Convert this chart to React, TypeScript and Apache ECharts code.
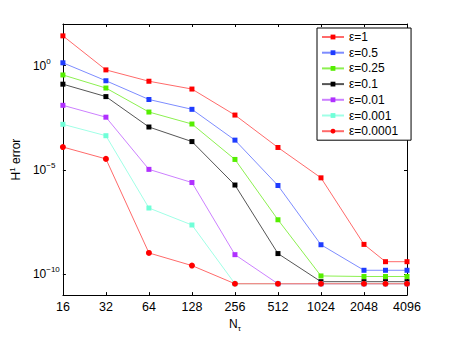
import React, { useEffect, useRef } from "react";
import * as echarts from "echarts";

const nTau = [16, 32, 64, 128, 256, 512, 1024, 2048, 2896, 4096];
const seriesNames = ["ε=1", "ε=0.5", "ε=0.25", "ε=0.1", "ε=0.01", "ε=0.001", "ε=0.0001"];
const eps1 = [27, 0.63, 0.18, 0.076, 4.3e-3, 1.2e-4, 4.2e-6, 2.7e-9, 4.0e-10, 4.0e-10];
const eps05 = [1.38, 0.19, 0.024, 8.1e-3, 2.7e-4, 1.8e-6, 2.6e-9, 1.55e-10, 1.55e-10, 1.55e-10];
const eps025 = [0.36, 0.085, 6.0e-3, 1.6e-3, 3.2e-5, 4.1e-8, 8.3e-11, 7.8e-11, 7.8e-11, 7.8e-11];
const eps01 = [0.13, 0.033, 1.15e-3, 2.3e-4, 1.9e-6, 9.8e-10, 4.4e-11, 4.4e-11, 4.4e-11, 4.4e-11];
const eps001 = [0.0126, 3.4e-3, 1.07e-5, 2.5e-6, 8.7e-10, 3.5e-11, 3.5e-11, 3.5e-11, 3.5e-11, 3.5e-11];
const eps0001 = [1.55e-3, 4.4e-4, 1.5e-7, 2.3e-8, 3.5e-11, 3.5e-11, 3.5e-11, 3.5e-11, 3.5e-11, 3.5e-11];
const eps00001 = [1.26e-4, 3.4e-5, 1.05e-9, 2.6e-10, 3.5e-11, 3.5e-11, 3.5e-11, 3.5e-11, 3.5e-11, 3.5e-11];
const yTickValues = [1e-10, 1e-5, 1];

const allValues = [eps1, eps05, eps025, eps01, eps001, eps0001, eps00001];
const markerColors = ["#ff0000", "#1f3cff", "#55ee00", "#000000", "#b030ff", "#70ffd8", "#ff0000"];
const lineColors = ["#ff6a6a", "#7d8cff", "#8cf050", "#555555", "#cc80ff", "#a0ffe6", "#ff6a6a"];
const symbols = ["rect", "rect", "rect", "rect", "rect", "rect", "circle"];

const FONT = "Liberation Sans, Arial, Helvetica, sans-serif";

export default function App() {
  const ref = useRef<HTMLDivElement>(null);
  useEffect(() => {
    if (!ref.current) return;
    const chart = echarts.init(ref.current, null, { renderer: "svg" });
    const yLabelRich = {
      b: { fontSize: 12, fontFamily: FONT, color: "#000" },
      s: { fontSize: 8, fontFamily: FONT, color: "#000", padding: [0, 0, 9, 0] },
    };
    const yFormatter = (v: number) => {
      const e = Math.round(Math.log10(v));
      return `{b|10}{s|${e < 0 ? "\u2212" + -e : e}}`;
    };
    const axisLineStyle = { color: "#000", width: 1 };
    const series = allValues.map((vals, i) => ({
      name: seriesNames[i],
      type: "line",
      xAxisIndex: 0,
      yAxisIndex: 0,
      data: nTau.map((n, j) => [n, vals[j]]),
      symbol: symbols[i],
      symbolSize: symbols[i] === "circle" ? 6 : 5,
      showSymbol: true,
      lineStyle: { color: lineColors[i], width: 1 },
      itemStyle: { color: markerColors[i], borderWidth: 0 },
      emphasis: { disabled: true },
    }));
    chart.setOption({
      animation: false,
      textStyle: { fontFamily: FONT },
      grid: { left: 58, right: 43, top: 24, bottom: 38, containLabel: false },
      legend: {
        show: true,
        orient: "vertical",
        left: 317,
        top: 28,
        itemWidth: 22,
        itemHeight: 6,
        itemGap: 3.7,
        padding: [3, 13, 3, 4],
        borderColor: "#000",
        borderWidth: 1,
        backgroundColor: "#fff",
        textStyle: { fontSize: 12, fontFamily: FONT, color: "#000", lineHeight: 12 },
        data: seriesNames,
      },
      xAxis: [
        {
          type: "log",
          logBase: 2,
          min: 16,
          max: 4096,
          position: "bottom",
          name: "N{t|τ}",
          nameLocation: "middle",
          nameGap: 12,
          nameTextStyle: {
            fontSize: 12,
            fontFamily: FONT,
            color: "#000",
            rich: { t: { fontSize: 8, fontFamily: FONT, color: "#000", padding: [8, 0, 0, 0] } },
          },
          axisLine: { show: true, lineStyle: axisLineStyle },
          axisTick: { show: true, inside: true, length: 3, lineStyle: axisLineStyle },
          axisLabel: {
            show: true,
            fontSize: 12.5,
            fontFamily: FONT,
            color: "#000",
            margin: 5,
            formatter: (v: number) => String(Math.round(v)),
          },
          splitLine: { show: false },
          minorTick: { show: false },
        },
        {
          type: "log",
          logBase: 2,
          min: 16,
          max: 4096,
          position: "top",
          axisLine: { show: true, lineStyle: axisLineStyle },
          axisTick: { show: true, inside: true, length: 3, lineStyle: axisLineStyle },
          axisLabel: { show: false },
          splitLine: { show: false },
        },
      ],
      yAxis: [
        {
          type: "log",
          logBase: 10,
          min: 1e-11,
          max: 1e2,
          position: "left",
          name: "H{s|1} error",
          nameLocation: "middle",
          nameGap: 32,
          nameTextStyle: {
            fontSize: 12,
            fontFamily: FONT,
            color: "#000",
            rich: { s: { fontSize: 8, fontFamily: FONT, color: "#000", padding: [0, 0, 8, 0] } },
          },
          axisLine: { show: true, lineStyle: axisLineStyle },
          axisTick: { show: true, inside: true, length: 3, lineStyle: axisLineStyle, customValues: yTickValues },
          axisLabel: {
            show: true,
            align: "left",
            margin: 30,
            customValues: yTickValues,
            formatter: yFormatter,
            rich: yLabelRich,
          },
          splitLine: { show: false },
        },
        {
          type: "log",
          logBase: 10,
          min: 1e-11,
          max: 1e2,
          position: "right",
          axisLine: { show: true, lineStyle: axisLineStyle },
          axisTick: { show: true, inside: true, length: 3, lineStyle: axisLineStyle, customValues: yTickValues },
          axisLabel: { show: false },
          splitLine: { show: false },
        },
      ],
      series,
    });
    return () => chart.dispose();
  }, []);
  return <div ref={ref} style={{ width: 450, height: 337, position: "absolute", left: 0, top: 0, background: "#fff" }} />;
}
